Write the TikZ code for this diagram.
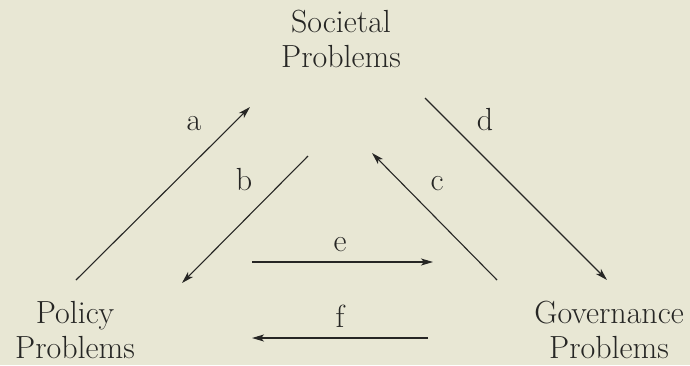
\documentclass[tikz,border=0pt]{standalone}
\usepackage{tikz}
\usetikzlibrary{arrows.meta}
\definecolor{paper}{RGB}{232,231,212}
\definecolor{ink}{RGB}{38,38,36}

\begin{document}
\begin{tikzpicture}[x=1pt, y=-1pt,
  prob/.style={align=center, inner sep=0pt, anchor=base, text=ink, font=\fontsize{32}{35}\selectfont},
  lbl/.style={inner sep=0pt, anchor=base, text=ink, font=\fontsize{32}{35}\selectfont},
  arr/.style={draw=ink, line width=1.1pt, -{Stealth[length=12pt, width=7pt, inset=3pt]}}]
  \fill[paper] (0,0) rectangle (690,365);
  \useasboundingbox (0,0) rectangle (690,365);
  % the three kinds of problems (base = last line)
  \node[prob] (soc) at (341,67) {Societal\\Problems};
  \node[prob] (pol) at (75,358) {Policy\\Problems};
  \node[prob] (gov) at (609,358) {Governance\\Problems};
  % arrow ends
  \coordinate (a1) at (76,280);  \coordinate (a2) at (250,107);
  \coordinate (b1) at (308,156); \coordinate (b2) at (182,283);
  \coordinate (c1) at (497,280); \coordinate (c2) at (372,153);
  \coordinate (d1) at (425,98);  \coordinate (d2) at (607,280);
  \coordinate (e1) at (252,262); \coordinate (e2) at (433,262);
  \coordinate (f1) at (428,338); \coordinate (f2) at (252,338);
  \draw[arr] (a1) -- (a2);
  \draw[arr] (b1) -- (b2);
  \draw[arr] (c1) -- (c2);
  \draw[arr] (d1) -- (d2);
  \draw[arr] (e1) -- (e2);
  \draw[arr] (f1) -- (f2);
  % labels
  \node[lbl] (la) at (194,130) {a};
  \node[lbl] (lb) at (244,190) {b};
  \node[lbl] (lc) at (437,190) {c};
  \node[lbl] (ld) at (485,130) {d};
  \node[lbl] (le) at (340,251) {e};
  \node[lbl] (lf) at (340,327) {f};
\end{tikzpicture}
\end{document}
